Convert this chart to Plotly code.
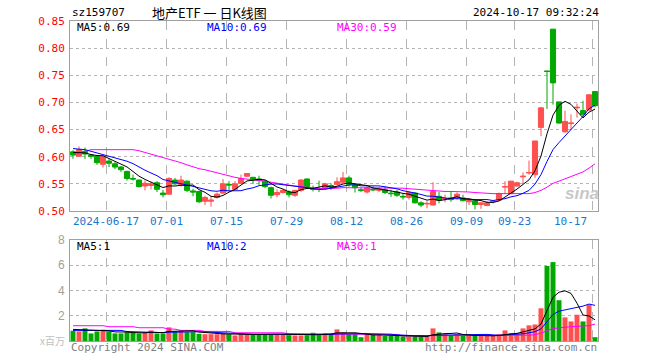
import numpy as np
import pandas as pd
import plotly.graph_objects as go

# ---------------- data ----------------
dates = [
    "2024-06-06", "2024-06-07", "2024-06-11", "2024-06-12", "2024-06-13", "2024-06-14",
    "2024-06-17", "2024-06-18", "2024-06-19", "2024-06-20", "2024-06-21",
    "2024-06-24", "2024-06-25", "2024-06-26", "2024-06-27", "2024-06-28",
    "2024-07-01", "2024-07-02", "2024-07-03", "2024-07-04", "2024-07-05",
    "2024-07-08", "2024-07-09", "2024-07-10", "2024-07-11", "2024-07-12",
    "2024-07-15", "2024-07-16", "2024-07-17", "2024-07-18", "2024-07-19",
    "2024-07-22", "2024-07-23", "2024-07-24", "2024-07-25", "2024-07-26",
    "2024-07-29", "2024-07-30", "2024-07-31", "2024-08-01", "2024-08-02",
    "2024-08-05", "2024-08-06", "2024-08-07", "2024-08-08", "2024-08-09",
    "2024-08-12", "2024-08-13", "2024-08-14", "2024-08-15", "2024-08-16",
    "2024-08-19", "2024-08-20", "2024-08-21", "2024-08-22", "2024-08-23",
    "2024-08-26", "2024-08-27", "2024-08-28", "2024-08-29", "2024-08-30",
    "2024-09-02", "2024-09-03", "2024-09-04", "2024-09-05", "2024-09-06",
    "2024-09-09", "2024-09-10", "2024-09-11", "2024-09-12", "2024-09-13",
    "2024-09-18", "2024-09-19", "2024-09-20",
    "2024-09-23", "2024-09-24", "2024-09-25", "2024-09-26", "2024-09-27", "2024-09-30",
    "2024-10-08", "2024-10-09", "2024-10-10", "2024-10-11",
    "2024-10-14", "2024-10-15", "2024-10-16", "2024-10-17",
]

open_ = [0.609, 0.601, 0.610, 0.603, 0.601, 0.586, 0.592, 0.587, 0.581, 0.573,
         0.560, 0.557, 0.546, 0.547, 0.552, 0.533, 0.531, 0.557, 0.549, 0.555,
         0.537, 0.536, 0.518, 0.518, 0.525, 0.533, 0.549, 0.540, 0.551, 0.564,
         0.562, 0.559, 0.555, 0.543, 0.530, 0.534, 0.535, 0.529, 0.538, 0.559,
         0.541, 0.541, 0.541, 0.547, 0.549, 0.553, 0.561, 0.549, 0.539, 0.535,
         0.540, 0.538, 0.539, 0.533, 0.535, 0.527, 0.525, 0.533, 0.515, 0.513,
         0.511, 0.527, 0.522, 0.524, 0.525, 0.524, 0.517, 0.519, 0.512, 0.510,
         0.517, 0.520, 0.544, 0.532, 0.546, 0.563, 0.570, 0.567, 0.654, 0.758,
         0.835, 0.701, 0.646, 0.661, 0.690, 0.685, 0.686, 0.720]
high = [0.612, 0.619, 0.617, 0.604, 0.603, 0.602, 0.597, 0.591, 0.583, 0.574,
        0.567, 0.558, 0.556, 0.554, 0.555, 0.539, 0.562, 0.561, 0.565, 0.556,
        0.541, 0.537, 0.528, 0.527, 0.534, 0.559, 0.555, 0.555, 0.567, 0.570,
        0.563, 0.565, 0.557, 0.545, 0.540, 0.540, 0.538, 0.539, 0.559, 0.560,
        0.547, 0.556, 0.552, 0.551, 0.562, 0.572, 0.565, 0.550, 0.543, 0.545,
        0.545, 0.544, 0.545, 0.539, 0.539, 0.532, 0.537, 0.534, 0.518, 0.518,
        0.553, 0.535, 0.530, 0.535, 0.534, 0.530, 0.523, 0.520, 0.516, 0.518,
        0.519, 0.534, 0.555, 0.555, 0.554, 0.571, 0.593, 0.629, 0.692, 0.758,
        0.835, 0.701, 0.685, 0.678, 0.698, 0.703, 0.715, 0.720]
low = [0.596, 0.600, 0.596, 0.596, 0.585, 0.580, 0.581, 0.577, 0.572, 0.556,
       0.556, 0.543, 0.538, 0.540, 0.535, 0.525, 0.530, 0.548, 0.545, 0.535,
       0.527, 0.515, 0.511, 0.508, 0.523, 0.531, 0.536, 0.539, 0.550, 0.563,
       0.550, 0.548, 0.542, 0.523, 0.525, 0.532, 0.525, 0.526, 0.535, 0.541,
       0.536, 0.535, 0.539, 0.539, 0.547, 0.552, 0.545, 0.534, 0.535, 0.532,
       0.537, 0.535, 0.531, 0.526, 0.526, 0.521, 0.521, 0.514, 0.507, 0.505,
       0.510, 0.514, 0.516, 0.517, 0.521, 0.518, 0.511, 0.503, 0.504, 0.509,
       0.514, 0.519, 0.532, 0.531, 0.545, 0.550, 0.567, 0.561, 0.638, 0.688,
       0.696, 0.661, 0.644, 0.650, 0.672, 0.672, 0.685, 0.691]
close = [0.603, 0.613, 0.605, 0.601, 0.589, 0.601, 0.588, 0.581, 0.576, 0.560,
         0.559, 0.545, 0.551, 0.550, 0.540, 0.530, 0.560, 0.550, 0.557, 0.538,
         0.535, 0.517, 0.525, 0.520, 0.531, 0.550, 0.548, 0.550, 0.560, 0.569,
         0.557, 0.556, 0.545, 0.529, 0.534, 0.538, 0.530, 0.538, 0.557, 0.545,
         0.540, 0.540, 0.550, 0.544, 0.554, 0.561, 0.549, 0.543, 0.538, 0.543,
         0.539, 0.541, 0.534, 0.532, 0.529, 0.526, 0.534, 0.515, 0.511, 0.514,
         0.536, 0.520, 0.523, 0.521, 0.531, 0.519, 0.519, 0.512, 0.515, 0.515,
         0.518, 0.532, 0.545, 0.555, 0.552, 0.564, 0.571, 0.629, 0.690, 0.757,
         0.736, 0.662, 0.665, 0.662, 0.691, 0.678, 0.714, 0.694]

volume = [0.81, 0.76, 1.00, 0.60, 0.76, 0.89, 0.76, 0.60, 0.60, 0.70,
          0.65, 0.60, 0.68, 0.84, 0.60, 0.60, 1.08, 0.76, 0.81, 0.70,
          0.70, 0.57, 0.54, 0.54, 0.54, 0.62, 0.54, 0.44, 0.54, 0.54,
          0.54, 0.54, 0.54, 0.54, 0.54, 0.54, 0.46, 0.44, 0.44, 0.46,
          0.65, 0.46, 0.62, 0.57, 0.92, 0.68, 0.54, 0.54, 0.30, 0.54,
          0.49, 0.54, 0.41, 0.41, 0.41, 0.36, 0.36, 0.36, 0.36, 0.36,
          1.00, 0.68, 0.54, 0.41, 0.54, 0.41, 0.41, 0.41, 0.41, 0.41,
          0.41, 0.54, 0.84, 0.62, 0.62, 1.00, 1.24, 1.31, 2.59, 5.94,
          6.25, 3.23, 1.87, 1.55, 2.08, 1.55, 2.88, 0.30]

ma5_head = [0.608, 0.608, 0.607, 0.604]
ma10_head = [0.615, 0.614, 0.613, 0.610, 0.607, 0.603, 0.601, 0.598, 0.594]
ma30 = [0.605, 0.607, 0.610, 0.613, 0.613, 0.613, 0.613, 0.613, 0.614, 0.613,
        0.613, 0.611, 0.608, 0.605, 0.602, 0.599, 0.596, 0.593, 0.589, 0.585,
        0.581, 0.578, 0.576, 0.573, 0.570, 0.567, 0.565, 0.562, 0.560, 0.559,
        0.558, 0.556, 0.555, 0.553, 0.551, 0.549, 0.547, 0.546, 0.545, 0.543,
        0.542, 0.541, 0.541, 0.541, 0.542, 0.543, 0.543, 0.543, 0.543, 0.543,
        0.543, 0.543, 0.543, 0.542, 0.542, 0.542, 0.541, 0.540, 0.540, 0.539,
        0.538, 0.537, 0.536, 0.536, 0.536, 0.535, 0.535, 0.534, 0.533, 0.532,
        0.532, 0.532, 0.532, 0.532, 0.532, 0.531, 0.532, 0.534, 0.538, 0.544,
        0.551, 0.555, 0.559, 0.563, 0.567, 0.572, 0.579, 0.587]
vol_ma5_head = [0.92, 0.90, 0.88, 0.84]
vol_ma10_head = [0.84, 0.84, 0.84, 0.84, 0.84, 0.84, 0.84, 0.84, 0.84]
vol_ma30 = [1.21] * 6 + [1.13] * 5 + [1.05] * 5 + [0.94] * 2 + [0.84] * 4 + [0.76] * 5 \
    + [0.65] * 9 + [0.57] * 7 + [0.52] * 12 + [0.41] * 19 \
    + [0.42, 0.44, 0.46, 0.50, 0.62, 0.82, 0.98, 1.04, 1.10, 1.13, 1.16, 1.18, 1.22, 1.34]

tick_dates = ["2024-06-17", "2024-07-01", "2024-07-15", "2024-07-29", "2024-08-12",
              "2024-08-26", "2024-09-09", "2024-09-23", "2024-10-17"]
tick_labels = ["2024-06-17", "07-01", "07-15", "07-29", "08-12",
               "08-26", "09-09", "09-23", "10-17"]
price_ticks = [0.50, 0.55, 0.60, 0.65, 0.70, 0.75, 0.80, 0.85]
vol_ticks = [2, 4, 6, 8]

# ---------------- derived ----------------
def moving_avg(vals, n, head):
    s = pd.Series(vals, dtype=float).rolling(n).mean().to_numpy()
    s[:len(head)] = head
    return s

x = np.arange(len(dates))
ma5 = moving_avg(close, 5, ma5_head)
ma10 = moving_avg(close, 10, ma10_head)
vma5 = moving_avg(volume, 5, vol_ma5_head)
vma10 = moving_avg(volume, 10, vol_ma10_head)

RED = "#ff5050"
GREEN = "#00a800"
vol_colors = [RED if c > o else GREEN for o, c in zip(open_, close)]
tick_x = [dates.index(d) - 0.5 for d in tick_dates]

W, H = 660, 360
L, R, T, B = 70, 62, 21, 19
def px(v):
    return (v - L) / (W - L - R)
def py(v):
    return (H - B - v) / (H - T - B)

MONO = "DejaVu Sans Mono"

fig = go.Figure()
fig.add_trace(go.Candlestick(
    x=x, open=open_, high=high, low=low, close=close,
    increasing=dict(line=dict(color=RED, width=1), fillcolor=RED),
    decreasing=dict(line=dict(color=GREEN, width=1), fillcolor=GREEN),
    whiskerwidth=0, xaxis="x", yaxis="y", showlegend=False, hoverinfo="skip"))
for arr, col in [(ma30, "#ff00ff"), (ma10, "#0000ff"), (ma5, "#000000")]:
    fig.add_trace(go.Scatter(x=x, y=arr, mode="lines", line=dict(color=col, width=1),
                             xaxis="x", yaxis="y", showlegend=False, hoverinfo="skip"))

fig.add_trace(go.Bar(x=x, y=volume, marker=dict(color=vol_colors, line=dict(width=0)),
                     xaxis="x2", yaxis="y2", showlegend=False, hoverinfo="skip"))
for arr, col in [(vol_ma30, "#ff00ff"), (vma10, "#0000ff"), (vma5, "#000000")]:
    fig.add_trace(go.Scatter(x=x, y=arr, mode="lines", line=dict(color=col, width=1),
                             xaxis="x2", yaxis="y2", showlegend=False, hoverinfo="skip"))

axis_common = dict(showline=True, mirror=True, linecolor="#a0a0a0", linewidth=1,
                   zeroline=False, ticks="")
xcommon = dict(axis_common, range=[-0.5, len(dates) - 0.5], tickvals=tick_x,
               showticklabels=False, showgrid=True, gridcolor="#b4b4b4",
               griddash="dash", gridwidth=1, rangeslider=dict(visible=False))

main_bottom = py(211)
vol_top = py(240)

annotations = []
for tx, lab in zip(tick_x, tick_labels):
    last = lab == tick_labels[-1]
    annotations.append(dict(x=tx - 0.5 if last else tx, y=py(221), xref="x", yref="paper",
                            text=lab, showarrow=False,
                            xanchor="right" if last else "center", yanchor="middle",
                            font=dict(family=MONO, size=11, color="#1878d0")))

def note(text, xp, yp, color="#000000", size=10, anchor="left", family=MONO):
    annotations.append(dict(x=px(xp), y=py(yp), xref="paper", yref="paper", text=text,
                            showarrow=False, xanchor=anchor, yanchor="middle",
                            font=dict(family=family, size=size, color=color)))

note("sz159707", 70, 12, size=11)
note("地产ETF 一 日K线图", 150, 12, size=13, family="Noto Sans CJK SC")
note("2024-10-17 09:32:24", 601, 12, size=11, anchor="right")
note(f"MA5:{ma5[-1]:.2f}", 75, 27, size=11)
note(f"MA10:{ma10[-1]:.2f}", 205, 27, size=11, color="#0000ff")
note(f"MA30:{ma30[-1]:.2f}", 335, 27, size=11, color="#ff00ff")
note(f"MA5:{int(vma5[-1])}", 75, 246, size=11)
note(f"MA10:{int(vma10[-1])}", 205, 246, size=11, color="#0000ff")
note(f"MA30:{int(vol_ma30[-1])}", 335, 246, size=11, color="#ff00ff")
note("x百万", 67, 340, size=10, color="#c0c0c0", anchor="right", family="Noto Sans CJK SC")
note("Copyright 2024 SINA.COM", 69, 347, size=11, color="#808080")
note("http://finance.sina.com.cn", 599, 347, size=11, color="#808080", anchor="right")
note("<b><i>sina</i></b>", 582, 193, size=17, color="#c8c8c8", anchor="center",
     family="Liberation Sans")

fig.update_layout(
    width=W, height=H,
    margin=dict(l=L, r=R, t=T, b=B, pad=0),
    paper_bgcolor="#ffffff", plot_bgcolor="#ffffff",
    boxgap=0.15, boxgroupgap=0, bargap=0.17,
    xaxis=dict(xcommon, domain=[0, 1], anchor="y"),
    xaxis2=dict(xcommon, domain=[0, 1], anchor="y2", matches="x"),
    yaxis=dict(axis_common, domain=[main_bottom, 1], range=[0.50, 0.85],
               tickvals=price_ticks, tickformat=".2f", showgrid=True,
               gridcolor="#b4b4b4", griddash="dot",
               tickfont=dict(family=MONO, size=11, color="#ff0000"), ticklabelstandoff=2),
    yaxis2=dict(axis_common, domain=[0, vol_top], range=[0, 8], tickvals=vol_ticks,
                showgrid=True, gridcolor="#b4b4b4", griddash="dot",
                tickfont=dict(family="Liberation Sans", size=12, color="#a0a0a0"),
                ticklabelstandoff=2),
    annotations=annotations,
    showlegend=False,
    hovermode=False,
)

fig.write_html("out.html", config={"displayModeBar": False, "staticPlot": True},
               post_script="document.body.style.margin='0';document.body.style.overflow='hidden';")
